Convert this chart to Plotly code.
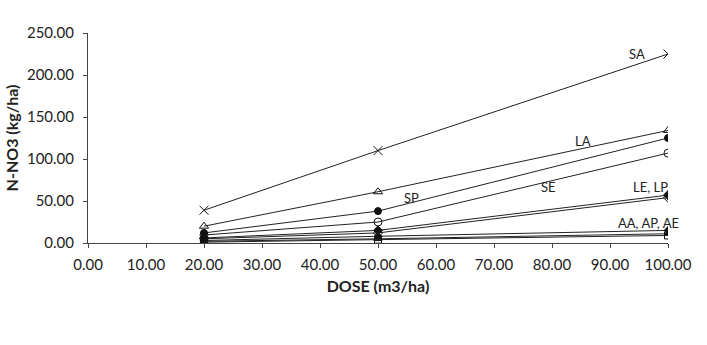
import plotly.graph_objects as go

dose = [20, 50, 100]
SA = [39, 110, 225]
LA = [20, 61, 134]
SP = [12, 38, 125]
SE = [9.5, 25, 107]
LE = [6, 15, 57]
LP = [5, 12, 54]
AA = [3, 8, 15]
AP = [2, 5, 11]
AE = [1, 4, 9]

series = [
    ("SA", SA, "x-thin-open", 9),
    ("LA", LA, "triangle-up-open", 8),
    ("SP", SP, "circle", 7),
    ("SE", SE, "circle-open", 8),
    ("LE", LE, "diamond", 7),
    ("LP", LP, "diamond-open", 7),
    ("AA", AA, "diamond", 6),
    ("AP", AP, "triangle-up", 7),
    ("AE", AE, "square-open", 7),
]

labels = ["SA", "LA", "SP", "SE", "LE, LP", "AA, AP, AE"]
label_x = [94.7, 85.4, 55.7, 79.4, 97.0, 96.6]
label_y = [225, 122, 53, 67, 67, 24]

font_family = "Lato, 'DejaVu Sans', sans-serif"

fig = go.Figure()
for name, vals, sym, sz in series:
    fig.add_trace(go.Scatter(
        x=dose, y=vals, mode="lines+markers", name=name,
        line=dict(color="#222", width=1),
        marker=dict(symbol=sym, size=sz, color="#111",
                    line=dict(color="#111", width=1)),
        showlegend=False,
    ))

for t, lx, ly in zip(labels, label_x, label_y):
    fig.add_annotation(x=lx, y=ly, text=t, showarrow=False,
                       font=dict(size=13, color="#222", family=font_family))

fig.update_layout(
    width=707, height=345,
    margin=dict(l=85, r=39, t=33, b=102),
    paper_bgcolor="white", plot_bgcolor="white",
    font=dict(family=font_family, size=15, color="#222"),
)
fig.update_xaxes(
    range=[0, 100], tickvals=list(range(0, 101, 10)), tickformat=".2f",
    showgrid=False, zeroline=False, showline=True, linecolor="#444",
    linewidth=1, ticks="outside", ticklen=4, tickcolor="#444",
    ticklabelstandoff=4,
    title=dict(text="<b>DOSE (m3/ha)</b>", font=dict(size=16), standoff=8),
)
fig.update_yaxes(
    range=[0, 250], tickvals=list(range(0, 251, 50)), tickformat=".2f",
    showgrid=False, zeroline=False, showline=True, linecolor="#444",
    linewidth=1, ticks="outside", ticklen=4, tickcolor="#444",
    ticklabelstandoff=6,
    title=dict(text="<b>N-NO3 (kg/ha)</b>", font=dict(size=16), standoff=4),
)

fig.write_html("out.html")
